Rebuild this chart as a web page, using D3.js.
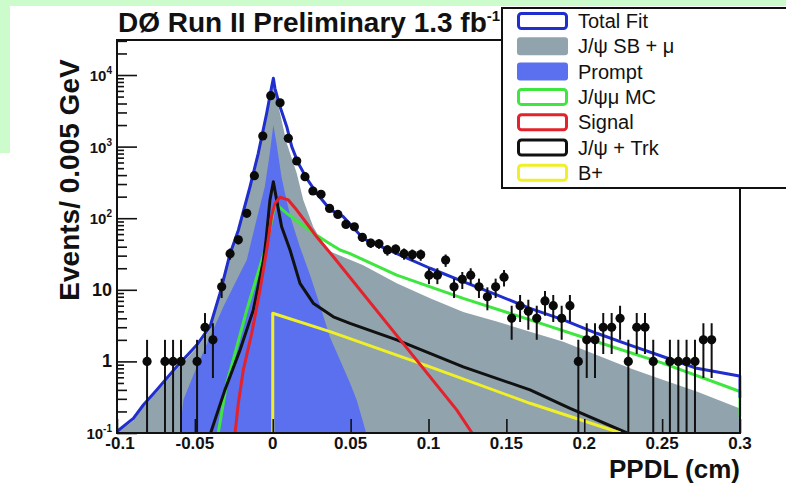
<!DOCTYPE html>
<html><head><meta charset="utf-8">
<script src="https://cdn.jsdelivr.net/npm/d3@7"></script>
<style>
html,body{margin:0;padding:0;background:#fff;}
svg{display:block;font-family:"Liberation Sans",Arial,Helvetica,sans-serif;}
</style></head><body>
<svg id="chart" width="786" height="488"></svg>
<script>
// ---------------- data ----------------
const xTickValues = [-0.1,-0.05,0,0.05,0.1,0.15,0.2,0.25,0.3];
const xTickLabels = ["-0.1","-0.05","0","0.05","0.1","0.15","0.2","0.25","0.3"];
const yTickValues = [0.1,1,10,100,1000,10000];
const yTickBase   = ["10","1","10","10","10","10"];
const yTickExp    = ["-1","","","2","3","4"];

const legendLabels = ["Total Fit","J/\u03C8 SB + \u03BC","Prompt","J/\u03C8\u03BC MC","Signal","J/\u03C8 + Trk","B+"];

// data points (PPDL, events per bin)
const pointX = [-0.0807,-0.0692,-0.064,-0.0589,-0.0486,-0.0435,-0.0384,-0.0328,-0.0274,-0.0221,-0.0167,-0.0118,-0.0064,-0.0013,0.0047,0.0100,0.0154,0.0207,0.0258,0.0310,0.0365,0.0418,0.0470,0.0524,0.0575,0.0629,0.0682,0.0736,0.0789,0.0843,0.0896,0.0950,0.1003,0.1057,0.1110,0.1164,0.1217,0.1271,0.1324,0.1378,0.1431,0.1485,0.1534,0.1588,0.1641,0.1695,0.1748,0.1801,0.1855,0.1908,0.1962,0.2016,0.2069,0.2122,0.2176,0.2230,0.2283,0.2337,0.2390,0.2443,0.2550,0.2604,0.2657,0.2711,0.2765,0.2818];
const pointY = [1,1,1,1,1,3,2,11,32,50,117,393,1406,5140,4100,1306,630,380,240,216,137,113,82,76,54,45,44,36,37,32,31,31,16,16,26,11,14,16,11,8,11,15,4,6,5,4,7,6,4,6,1,2,2,3,3,4,1,3,3,1,1,1,1,1,2,2];

// Total fit
const totalX = [-0.1,-0.0895,-0.0831,-0.0745,-0.0617,-0.0488,-0.0403,-0.0339,-0.0274,-0.0221,-0.0146,-0.0093,-0.0039,-0.0007,0.0004,0.0014,0.0047,0.0090,0.0122,0.0164,0.0218,0.0282,0.0368,0.0453,0.0581,0.0796,0.1010,0.1223,0.1438,0.1652,0.1866,0.2080,0.2294,0.2508,0.2722,0.2996,0.3,0.3];
const totalY = [0.105,0.16,0.246,0.40,0.84,1.69,3.05,8.9,32,68,275,806,2920,6870,9000,6520,3600,1900,1000,585,360,223,132,105,52,32,20,13,8.5,5.5,3.8,2.47,1.69,1.16,0.80,0.625,0.62,0.31];

// J/psi SB + mu (filled)
const sbX = [-0.1,-0.0895,-0.0831,-0.0745,-0.0617,-0.0488,-0.0403,-0.0339,-0.0274,-0.0221,-0.0146,-0.0093,-0.0039,-0.0007,0.0004,0.0014,0.0047,0.0090,0.0154,0.0196,0.0260,0.0346,0.0581,0.0796,0.1010,0.1223,0.1438,0.1652,0.1866,0.2080,0.2294,0.2508,0.2722,0.3];
const sbY = [0.1,0.15,0.23,0.37,0.78,1.55,2.8,8.0,29,62,250,740,2700,6300,8000,5800,2900,1110,424,180,76,36,22,12.3,7.6,4.9,3.6,2.6,1.88,1.23,0.80,0.55,0.38,0.22];

// Prompt (filled)
const promptX = [-0.0595,-0.0574,-0.0488,-0.0403,-0.0317,-0.0210,-0.0167,-0.0105,-0.0051,-0.0019,0.0004,0.0024,0.0056,0.0088,0.0120,0.0174,0.0240,0.0303,0.0367,0.0496,0.0539,0.0600];
const promptY = [0.1,0.29,0.84,2.2,5.8,17,26,94,275,805,2000,1110,380,180,94,40,16,6.1,2.2,0.5,0.29,0.1];

// J/psi mu MC
const mcX = [-0.035,-0.0296,-0.0231,-0.0167,-0.0103,-0.0050,-0.0028,0.0015,0.0090,0.0175,0.0260,0.0346,0.0432,0.0496,0.0796,0.1223,0.1652,0.2080,0.2508,0.3,0.3];
const mcY = [0.1,0.49,1.6,5.2,15,36,55,161,117,85,62,47,36,32,16,7.6,3.8,1.88,0.94,0.38,0.17];

// Signal
const sigX = [-0.0242,-0.0221,-0.0189,-0.0135,-0.0082,-0.0039,-0.0029,-0.0008,0.0014,0.0047,0.0100,0.0154,0.0218,0.0282,0.0389,0.1181,0.128];
const sigY = [0.1,0.26,0.76,2.47,9.9,36,50,105,161,196,180,130,85,55,29,0.21,0.1];

// J/psi + Trk
const trkX = [-0.0399,-0.0307,-0.0210,-0.0125,-0.0061,-0.0045,-0.0018,0.0004,0.0025,0.0057,0.0111,0.0175,0.0260,0.0389,0.0496,0.0796,0.1223,0.1652,0.1909,0.2275];
const trkY = [0.1,0.40,1.44,5.2,25,45,180,324,180,76,36,12.3,6.5,4.2,3.4,2.0,0.84,0.40,0.22,0.1];

// B+
const bX = [0,0,0.0368,0.1010,0.1652,0.2233];
const bY = [0.1,4.7,2.6,0.84,0.26,0.1];

// ---------------- drawing ----------------
const W = 786, H = 488;
const L = 117, R = 740, T = 40, B = 433;
const svg = d3.select("#chart");

svg.append("rect").attr("width",W).attr("height",H).attr("fill","#ffffff");
svg.append("rect").attr("x",0).attr("y",0).attr("width",W).attr("height",6).attr("fill","#ccfccc");
svg.append("rect").attr("x",0).attr("y",0).attr("width",10).attr("height",153).attr("fill","#ccfccc");

const x = d3.scaleLinear().domain([-0.1,0.3]).range([L,R]);
const y = d3.scaleLog().domain([0.1, Math.pow(10,4.489)]).range([B,T]);

svg.append("defs").append("clipPath").attr("id","plotclip")
  .append("rect").attr("x",L).attr("y",T).attr("width",R-L+1.5).attr("height",B-T);

const plot = svg.append("g").attr("clip-path","url(#plotclip)");
const zip = (a,b) => a.map((v,i)=>[v,b[i]]);

const area = d3.area().x(d=>x(d[0])).y0(y(0.1)).y1(d=>y(d[1]));
const line = d3.line().x(d=>x(d[0])).y(d=>y(d[1]));

plot.append("path").datum(zip(sbX,sbY)).attr("d",area).attr("fill","#91a3ac");
plot.append("path").datum(zip(promptX,promptY)).attr("d",area).attr("fill","#5a70ee");

const curves = [
  {xs:mcX, ys:mcY, c:"#3fe63f"},
  {xs:trkX, ys:trkY, c:"#111111"},
  {xs:bX, ys:bY, c:"#f0f028"},
  {xs:sigX, ys:sigY, c:"#e3222c"},
  {xs:totalX, ys:totalY, c:"#1f2ecc"}
];
curves.forEach(cv=>{
  plot.append("path").datum(zip(cv.xs,cv.ys)).attr("d",line)
    .attr("fill","none").attr("stroke",cv.c).attr("stroke-width",3)
    .attr("stroke-linejoin","round");
});

// data points with sqrt(N) error bars
const pts = zip(pointX,pointY);
plot.selectAll("line.err").data(pts).enter().append("line")
  .attr("x1",d=>x(d[0])).attr("x2",d=>x(d[0]))
  .attr("y1",d=>y(d[1]+Math.sqrt(d[1])))
  .attr("y2",d=>{const lo=d[1]-Math.sqrt(d[1]); return lo>0.1? y(lo) : B+2;})
  .attr("stroke","#111").attr("stroke-width",2);
plot.selectAll("circle.pt").data(pts).enter().append("circle")
  .attr("cx",d=>x(d[0])).attr("cy",d=>y(d[1])).attr("r",4.6).attr("fill","#0a0a0a");

// ---------------- axes ----------------
const xMinor = d3.range(-10,31).map(i=>i/100).filter(v=>Math.abs(Math.round(v*200)-v*200)>1e-6);
const gxMinor = svg.append("g").attr("transform",`translate(0,${B})`)
  .call(d3.axisBottom(x).tickValues(xMinor).tickSize(-7).tickFormat(""));
const gx = svg.append("g").attr("transform",`translate(0,${B})`)
  .call(d3.axisBottom(x).tickValues(xTickValues).tickSize(-14).tickFormat(""));

const yMinorLong = [], yMinorShort = [];
for (let n=-1;n<=4;n++) for (let k=2;k<=9;k++){
  const v=k*Math.pow(10,n);
  if (v < y.domain()[1]) (k<=4? yMinorLong : yMinorShort).push(v);
}
const gyMinor1 = svg.append("g").attr("transform",`translate(${L},0)`)
  .call(d3.axisLeft(y).tickValues(yMinorLong).tickSize(-10).tickFormat(""));
const gyMinor2 = svg.append("g").attr("transform",`translate(${L},0)`)
  .call(d3.axisLeft(y).tickValues(yMinorShort).tickSize(-7).tickFormat(""));
const gy = svg.append("g").attr("transform",`translate(${L},0)`)
  .call(d3.axisLeft(y).tickValues(yTickValues).tickSize(-20).tickFormat(""));

[gxMinor,gx,gyMinor1,gyMinor2,gy].forEach(g=>{
  g.select(".domain").remove();
  g.selectAll(".tick line").attr("stroke","#111").attr("stroke-width",1.6);
});

// frame
const frame = svg.append("g").attr("stroke","#111").attr("stroke-width",2).attr("fill","none");
frame.append("path").attr("d",`M${L},${T}H${R}V${B}H${L}Z`);

// x tick labels
svg.append("g").selectAll("text").data(xTickValues).enter().append("text")
  .attr("x",(d,i)=> x(d) + (i===0?3:0)).attr("y",B+16)
  .attr("text-anchor","middle").attr("font-size",17).attr("font-weight","bold").attr("fill","#111")
  .text((d,i)=>xTickLabels[i]);

// y tick labels
const yl = svg.append("g");
yTickValues.forEach((v,i)=>{
  const t = yl.append("text").attr("x",112).attr("y",y(v)+6)
    .attr("text-anchor","end").attr("font-weight","bold").attr("fill","#111");
  if (yTickExp[i]) {
    t.attr("font-size",15);
    t.append("tspan").text(yTickBase[i]);
    t.append("tspan").attr("font-size",10).attr("dy",-7).text(yTickExp[i]);
  } else {
    t.attr("font-size",18).text(yTickBase[i]);
  }
});

// titles
const title = svg.append("text").attr("x",118).attr("y",32)
  .attr("font-size",28).attr("font-weight","bold").attr("fill","#111");
title.append("tspan").text("D\u00D8 Run II Preliminary 1.3 fb");
title.append("tspan").attr("font-size",15).attr("dy",-11).text("-1");

svg.append("text").attr("transform","translate(79,180) rotate(-90)")
  .attr("text-anchor","middle").attr("font-size",28).attr("font-weight","bold").attr("fill","#111")
  .text("Events/ 0.005 GeV");

svg.append("text").attr("x",740).attr("y",478).attr("text-anchor","end")
  .attr("font-size",26).attr("font-weight","bold").attr("fill","#111").text("PPDL (cm)");

// ---------------- legend ----------------
const legColors = ["#1f2ecc","#91a3ac","#5a70ee","#3fe63f","#e3222c","#111111","#f0f028"];
const legFilled = [false,true,true,false,false,false,false];
const leg = svg.append("g");
leg.append("rect").attr("x",502).attr("y",8).attr("width",300).attr("height",180)
  .attr("fill","#fff").attr("stroke","#111").attr("stroke-width",2);
legendLabels.forEach((lab,i)=>{
  const cy = 21 + i*25.3;
  if (legFilled[i]) {
    leg.append("rect").attr("x",517).attr("y",cy-9).attr("width",51).attr("height",18).attr("rx",3)
      .attr("fill",legColors[i]);
  } else {
    leg.append("rect").attr("x",518.5).attr("y",cy-7.5).attr("width",48).attr("height",15).attr("rx",3)
      .attr("fill","#fff").attr("stroke",legColors[i]).attr("stroke-width",3);
  }
  leg.append("text").attr("x",578).attr("y",cy+7).attr("font-size",20).attr("fill","#111").text(lab);
});
</script></body></html>
